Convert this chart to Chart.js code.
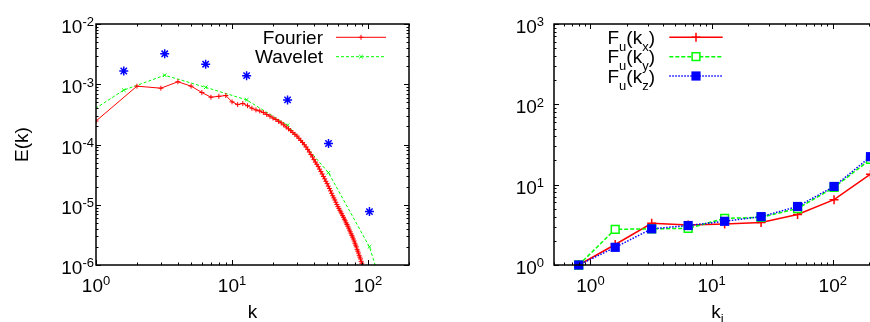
<!DOCTYPE html>
<html lang="en">
<head>
<meta charset="UTF-8">
<title>E(k) and F_u(k_i)</title>
<script src="https://cdn.jsdelivr.net/npm/chart.js@4"></script>
<style>
    html, body { margin: 0; padding: 0; background: #fff; overflow: hidden; }
    #wrap { position: relative; width: 870px; height: 322px; overflow: hidden; }
    #spectrum { position: absolute; left: 0; top: 0; }
    #flatness { position: absolute; left: 440px; top: 0; }
</style>
</head>
<body>
<div id="wrap">
    <canvas id="spectrum" width="440" height="322"></canvas>
    <canvas id="flatness" width="460" height="322"></canvas>
</div>
<script>
// ---- left panel: energy spectrum ----
const fourierK = [1, 2, 3, 4, 5, 6, 7, 8, 9, 10, 11, 12, 13, 14, 15, 16, 17, 18, 19, 20,
    21, 22, 23, 24, 25, 26, 27, 28, 29, 30, 31, 32, 33, 34, 35, 36, 37, 38, 39, 40,
    41, 42, 43, 44, 45, 46, 47, 48, 49, 50, 51, 52, 53, 54, 55, 56, 57, 58, 59, 60,
    61, 62, 63, 64, 65, 66, 67, 68, 69, 70, 71, 72, 73, 74, 75, 76, 77, 78, 79, 80,
    81, 82, 83, 84, 85, 86, 87, 88, 89, 90, 91, 92, 93, 94, 95, 96, 97, 98, 99, 100];
const fourierE = [2.45e-4, 9.3e-4, 8.6e-4, 1.10e-3, 9.3e-4, 7.3e-4, 6.1e-4, 6.3e-4, 6.5e-4, 5.1e-4,
    4.6e-4, 4.8e-4, 4.4e-4, 4.0e-4, 3.75e-4, 3.6e-4, 3.4e-4, 3.15e-4, 2.95e-4, 2.75e-4,
    2.6e-4, 2.42e-4, 2.28e-4, 2.12e-4, 1.95e-4, 1.82e-4, 1.70e-4, 1.58e-4, 1.47e-4, 1.38e-4,
    1.27e-4, 1.17e-4, 1.08e-4, 9.9e-5, 9.1e-5, 8.3e-5, 7.5e-5, 6.8e-5, 6.2e-5, 5.6e-5,
    5.1e-5, 4.7e-5, 4.3e-5, 3.9e-5, 3.55e-5, 3.24e-5, 2.95e-5, 2.69e-5, 2.45e-5, 2.24e-5,
    2.04e-5, 1.86e-5, 1.70e-5, 1.55e-5, 1.41e-5, 1.30e-5, 1.20e-5, 1.10e-5, 1.01e-5, 9.3e-6,
    8.7e-6, 8.1e-6, 7.6e-6, 7.1e-6, 6.6e-6, 6.2e-6, 5.75e-6, 5.4e-6, 5.0e-6, 4.7e-6,
    4.4e-6, 4.1e-6, 3.8e-6, 3.55e-6, 3.3e-6, 3.1e-6, 2.9e-6, 2.7e-6, 2.5e-6, 2.3e-6,
    2.14e-6, 2.0e-6, 1.82e-6, 1.70e-6, 1.58e-6, 1.45e-6, 1.35e-6, 1.26e-6, 1.15e-6, 1.07e-6,
    9.8e-7, 9.1e-7, 8.3e-7, 7.8e-7, 7.1e-7, 6.5e-7, 6.0e-7, 5.5e-7, 5.0e-7, 4.6e-7];
const waveletK = [0.8, 1.6, 3.2, 6.4, 12.8, 25.6, 51.2, 102.4, 204.8];
const waveletE = [2.9e-4, 8.0e-4, 1.41e-3, 8.9e-4, 5.5e-4, 2.09e-4, 3.4e-5, 2.0e-6, 1.4e-8];
const starK = [1.6, 3.2, 6.4, 12.8, 25.6, 51.2, 102.4];
const starE = [1.66e-3, 3.2e-3, 2.15e-3, 1.39e-3, 5.5e-4, 1.04e-4, 7.7e-6];
const kTickExp = [0, 1, 2];
const eTickExp = [-6, -5, -4, -3, -2];

// ---- right panel: flatness ----
const kI = [0.8, 1.6, 3.2, 6.4, 12.8, 25.6, 51.2, 102.4, 204.8];
const fuKx = [1, 1.8, 3.3, 3.15, 3.25, 3.38, 4.25, 6.5, 13.5];
const fuKy = [1, 2.78, 2.82, 2.86, 3.8, 3.92, 5.05, 9.25, 20.7];
const fuKz = [1, 1.66, 2.82, 3.1, 3.5, 4.0, 5.35, 9.5, 22.3];
const kiTickExp = [0, 1, 2];
const fTickExp = [0, 1, 2, 3];

const FONT = '"Liberation Sans", Arial, sans-serif';
const RED = '#ff0000', GREEN = '#00ff00', BLUE = '#0000ff';

function pts(xs, ys) {
    return xs.map((x, i) => ({x: x, y: ys[i]}));
}

// text with subscript / superscript parts: [text, yShift, small]
function richText(ctx, parts, x, y, align) {
    let w = 0;
    parts.forEach(p => {
        ctx.font = (p[2] ? '13px ' : '19px ') + FONT;
        w += ctx.measureText(p[0]).width;
    });
    let cx = align === 'right' ? x - w : (align === 'center' ? x - w / 2 : x);
    ctx.textAlign = 'left';
    ctx.textBaseline = 'alphabetic';
    parts.forEach(p => {
        ctx.font = (p[2] ? '13px ' : '19px ') + FONT;
        ctx.fillText(p[0], cx, y + p[1]);
        cx += ctx.measureText(p[0]).width;
    });
}

function powLabel(ctx, exp, x, y, align) {
    richText(ctx, [['10', 0, false], [String(exp), -6.7, true]], x, y, align);
}

function marker(ctx, style, x, y, r, fill) {
    ctx.beginPath();
    if (style === 'cross' || style === 'star') {
        ctx.moveTo(x - r, y); ctx.lineTo(x + r, y);
        ctx.moveTo(x, y - r); ctx.lineTo(x, y + r);
    }
    if (style === 'crossRot' || style === 'star') {
        const d = r * Math.SQRT1_2;
        ctx.moveTo(x - d, y - d); ctx.lineTo(x + d, y + d);
        ctx.moveTo(x - d, y + d); ctx.lineTo(x + d, y - d);
    }
    if (style === 'rect') {
        const s = r * Math.SQRT1_2;
        ctx.rect(x - s, y - s, 2 * s, 2 * s);
        ctx.fillStyle = fill;
        ctx.fill();
    }
    ctx.stroke();
}

function logSteps(min, max) {
    const out = [];
    for (let d = Math.floor(Math.log10(min)); d <= Math.ceil(Math.log10(max)); d++) {
        for (let m = 1; m <= 9; m++) {
            const v = m * Math.pow(10, d);
            if (v >= min * 0.999 && v <= max * 1.001) out.push({v: v, major: m === 1});
        }
    }
    return out;
}

// gnuplot style frame, inward ticks on all sides, power-of-ten labels
const gnuFrame = {
    id: 'gnuFrame',
    afterDatasetsDraw(chart, args, o) {
        const ctx = chart.ctx, a = chart.chartArea;
        const xs = chart.scales.x, ys = chart.scales.y;
        ctx.save();
        ctx.strokeStyle = '#000';
        ctx.lineWidth = 1;
        ctx.setLineDash([]);
        ctx.beginPath();
        logSteps(xs.min, xs.max).forEach(s => {
            const px = Math.round(xs.getPixelForValue(s.v)) + 0.5;
            const len = s.major ? 5 : 2.5;
            ctx.moveTo(px, a.bottom); ctx.lineTo(px, a.bottom - len);
            ctx.moveTo(px, a.top); ctx.lineTo(px, a.top + len);
        });
        logSteps(ys.min, ys.max).forEach(s => {
            const py = Math.round(ys.getPixelForValue(s.v)) + 0.5;
            const len = s.major ? 5 : 2.5;
            ctx.moveTo(a.left, py); ctx.lineTo(a.left + len, py);
            ctx.moveTo(a.right, py); ctx.lineTo(a.right - len, py);
        });
        ctx.stroke();
        ctx.lineWidth = 1.5;
        ctx.strokeRect(a.left, a.top, a.right - a.left, a.bottom - a.top);

        ctx.fillStyle = '#000';
        o.xExp.forEach(e => {
            powLabel(ctx, e, xs.getPixelForValue(Math.pow(10, e)), a.bottom + 26.5, 'center');
        });
        o.yExp.forEach(e => {
            powLabel(ctx, e, o.yLabelRight, ys.getPixelForValue(Math.pow(10, e)) + 9, 'right');
        });
        const cx = (a.left + a.right) / 2;
        richText(ctx, o.xTitle, cx, 318, 'center');
        if (o.yTitle) {
            ctx.save();
            ctx.translate(22.5, (a.top + a.bottom) / 2);
            ctx.rotate(-Math.PI / 2);
            ctx.font = '19px ' + FONT;
            ctx.textAlign = 'center';
            ctx.textBaseline = 'middle';
            ctx.fillText(o.yTitle, 0, 0);
            ctx.restore();
        }

        // key
        o.key.forEach((k, i) => {
            const y = o.keyY[i];
            ctx.fillStyle = '#000';
            richText(ctx, k.label, o.keyTextX, y + 6.7, o.keyAlign);
            ctx.strokeStyle = k.color;
            ctx.lineWidth = k.width;
            ctx.setLineDash(k.dash);
            ctx.beginPath();
            ctx.moveTo(o.keyLine[0], y); ctx.lineTo(o.keyLine[1], y);
            ctx.stroke();
            ctx.setLineDash([]);
            ctx.lineWidth = k.markWidth;
            marker(ctx, k.style, (o.keyLine[0] + o.keyLine[1]) / 2, y, k.radius, k.fill);
        });
        ctx.restore();
    }
};

function logAxis(min, max) {
    return {
        type: 'logarithmic', min: min, max: max,
        grid: {display: false, drawTicks: false},
        border: {display: false},
        ticks: {display: false},
        title: {display: false}
    };
}

new Chart(document.getElementById('spectrum'), {
    type: 'line',
    data: {
        datasets: [{
            label: 'Fourier',
            data: pts(fourierK, fourierE),
            borderColor: RED, borderWidth: 1,
            pointStyle: 'cross', pointRadius: 2.5, pointBorderWidth: 1,
            pointBorderColor: RED, order: 0
        }, {
            label: 'Wavelet',
            data: pts(waveletK, waveletE),
            borderColor: GREEN, borderWidth: 1, borderDash: [3, 2],
            pointStyle: 'crossRot', pointRadius: 2.5, pointBorderWidth: 1,
            pointBorderColor: GREEN, order: 1
        }, {
            label: 'Wavelet peaks',
            data: pts(starK, starE),
            showLine: false,
            pointStyle: 'star', pointRadius: 4.5, pointBorderWidth: 1.5,
            pointBorderColor: BLUE, order: 2
        }]
    },
    options: {
        responsive: false,
        animation: false,
        events: [],
        layout: {padding: {left: 96, top: 24, right: 31, bottom: 57}},
        scales: {x: logAxis(1, 200), y: logAxis(1e-6, 1e-2)},
        plugins: {
            legend: {display: false},
            tooltip: {enabled: false},
            gnuFrame: {
                xExp: kTickExp, yExp: eTickExp, yLabelRight: 94,
                xTitle: [['k', 0, false]], yTitle: 'E(k)',
                keyTextX: 323, keyAlign: 'right', keyLine: [336, 386], keyY: [37.3, 56.7],
                key: [
                    {label: [['Fourier', 0, false]], color: RED, width: 1, dash: [], style: 'cross', radius: 2.5, markWidth: 1},
                    {label: [['Wavelet', 0, false]], color: GREEN, width: 1, dash: [3, 2], style: 'crossRot', radius: 2.5, markWidth: 1}
                ]
            }
        }
    },
    plugins: [gnuFrame]
});

new Chart(document.getElementById('flatness'), {
    type: 'line',
    data: {
        datasets: [{
            label: 'F_u(k_x)',
            data: pts(kI, fuKx),
            borderColor: RED, borderWidth: 1.5,
            pointStyle: 'cross', pointRadius: 4.5, pointBorderWidth: 1.5,
            pointBorderColor: RED, order: 2, clip: false
        }, {
            label: 'F_u(k_y)',
            data: pts(kI, fuKy),
            borderColor: GREEN, borderWidth: 1.5, borderDash: [4, 2],
            pointStyle: 'rect', pointRadius: 5.5, pointBorderWidth: 1.5,
            pointBorderColor: GREEN, pointBackgroundColor: '#fff', order: 1, clip: false
        }, {
            label: 'F_u(k_z)',
            data: pts(kI, fuKz),
            borderColor: BLUE, borderWidth: 1.5, borderDash: [1.5, 1.5],
            pointStyle: 'rect', pointRadius: 6.5, pointBorderWidth: 0,
            pointBackgroundColor: BLUE, pointBorderColor: BLUE, order: 0, clip: false
        }]
    },
    options: {
        responsive: false,
        animation: false,
        events: [],
        layout: {padding: {left: 114, top: 24, right: 19, bottom: 57}},
        scales: {x: logAxis(0.5, 250), y: logAxis(1, 1000)},
        plugins: {
            legend: {display: false},
            tooltip: {enabled: false},
            gnuFrame: {
                xExp: kiTickExp, yExp: fTickExp, yLabelRight: 104,
                xTitle: [['k', 0, false], ['i', 5, true]], yTitle: null,
                keyTextX: 167.5, keyAlign: 'left', keyLine: [229.3, 282.7], keyY: [37.3, 56.7, 76],
                key: [
                    {label: [['F', 0, false], ['u', 7, true], ['(k', 0, false], ['x', 7, true], [')', 0, false]],
                        color: RED, width: 1.5, dash: [], style: 'cross', radius: 4.5, markWidth: 1.5, fill: RED},
                    {label: [['F', 0, false], ['u', 7, true], ['(k', 0, false], ['y', 7, true], [')', 0, false]],
                        color: GREEN, width: 1.5, dash: [4, 2], style: 'rect', radius: 5.5, markWidth: 1.5, fill: '#fff'},
                    {label: [['F', 0, false], ['u', 7, true], ['(k', 0, false], ['z', 7, true], [')', 0, false]],
                        color: BLUE, width: 1.5, dash: [1.5, 1.5], style: 'rect', radius: 6.5, markWidth: 0.01, fill: BLUE}
                ]
            }
        }
    },
    plugins: [gnuFrame]
});
</script>
</body>
</html>
